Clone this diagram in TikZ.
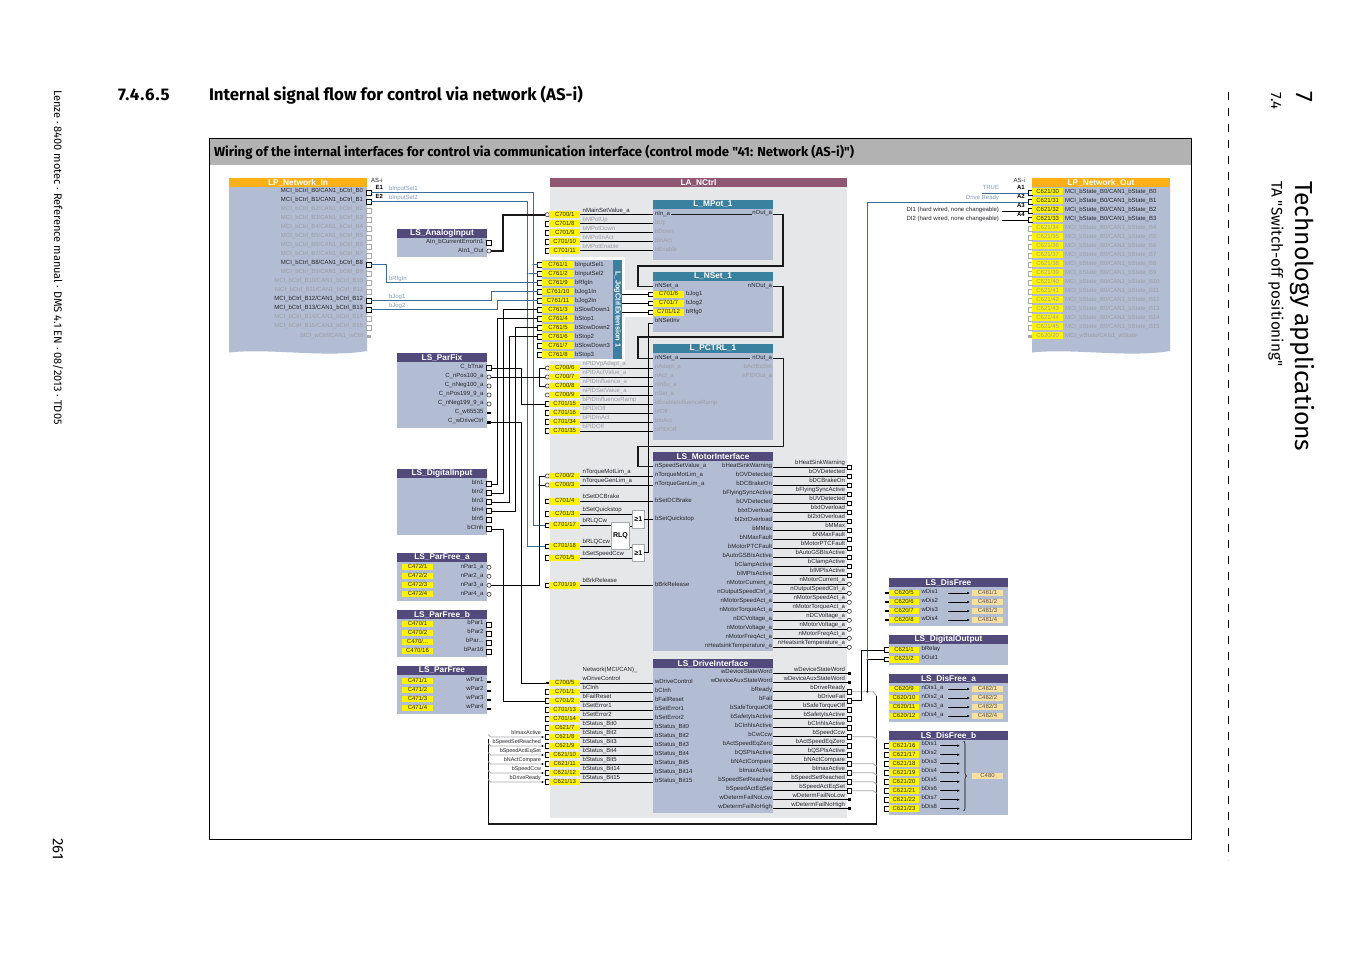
\documentclass[tikz,border=0pt]{standalone}
\usepackage{fontspec}
\setmainfont{Liberation Sans}
\newfontfamily\pagefont{Fira Sans}
\newfontfamily\pagefontsp[LetterSpace=5.5]{Fira Sans}
\usetikzlibrary{arrows.meta,decorations.pathreplacing,calc}
\catcode`\_=12
\definecolor{bodyc}{HTML}{B2BDD3}
\definecolor{purp}{HTML}{534A7C}
\definecolor{teal2}{HTML}{3A81A0}
\definecolor{yel}{HTML}{FFF200}
\definecolor{oran}{HTML}{FBB017}
\definecolor{wine}{HTML}{8F5772}
\definecolor{bgg}{HTML}{E6E7E9}
\definecolor{bluew}{HTML}{3A6C9A}
\definecolor{blut}{HTML}{7F9DBF}
\definecolor{grayt}{HTML}{9C9EA5}
\definecolor{dkt}{HTML}{26262B}
\definecolor{peach}{HTML}{F8DFA0}
\definecolor{stub}{HTML}{A9A9A9}
\tikzset{
 base/.style={inner sep=0pt,outer sep=0pt,font=\fontsize{6}{7}\selectfont,text height=4.3pt,text depth=1.2pt},
 dk/.style={base,text=dkt},
 dks/.style={dk,font=\fontsize{5.4}{6}\selectfont},
 gy/.style={base,text=grayt},
 blu/.style={base,text=blut},
 bld/.style={base,text=black,font=\fontsize{6}{7}\selectfont\bfseries},
 tag/.style={base,fill=yel,text=dkt,minimum width=30.7pt,minimum height=6.8pt},
 taggy/.style={tag,text=grayt},
 ptag/.style={base,fill=peach,text=dkt!80,minimum width=31pt,minimum height=6.8pt},
 psq/.style={draw=black,fill=white,line width=.8pt,inner sep=0pt,outer sep=0pt,minimum size=4.8pt},
 psqg/.style={psq,draw=stub},
 pc/.style={circle,draw=black!80,fill=white,line width=.6pt,inner sep=0pt,outer sep=0pt,minimum size=4.2pt},
 pf/.style={fill=black,inner sep=0pt,outer sep=0pt,minimum width=3.6pt,minimum height=2.6pt},
 pfg/.style={pf,fill=stub},
 jd/.style={circle,fill=black,inner sep=0pt,outer sep=0pt,minimum size=2pt},
 jb/.style={circle,fill=bluew,inner sep=0pt,outer sep=0pt,minimum size=2pt},
 wire/.style={line width=.8pt,black},
 bwire/.style={line width=.8pt,bluew},
 thk/.style={line width=1.4pt,black!90},
 gwire/.style={line width=.9pt,stub},
 bodyb/.style={fill=bodyc,draw=none},
 hdr/.style={inner sep=0pt,outer sep=0pt,text=white,font=\fontsize{8.3}{9}\selectfont\bfseries},
 gatebox/.style={draw=stub,fill=white,line width=.8pt,inner sep=0pt,outer sep=0pt,font=\fontsize{7}{8}\selectfont\bfseries},
 arr/.style={line width=.7pt,black,-{Latex[length=3pt,width=2.6pt]},shorten >=2pt},
 ptext/.style={inner sep=0pt,outer sep=0pt,font=\pagefont},
}
\newcount\txtn
\newcommand\txtL[4][dk]{\global\advance\txtn by 1\relax\node[#1,anchor=west] (x\the\txtn) at (#2,#3) {#4};}
\newcommand\txtR[4][dk]{\global\advance\txtn by 1\relax\node[#1,anchor=east] (x\the\txtn) at (#2,#3) {#4};}
\newcommand\blockb[8]{\fill[bodyb] (#2,#5) rectangle (#3,#6);
  \fill[#7] (#2,#4) rectangle (#3,#5);
  \node[hdr] (h#1) at ({(#2+#3)/2},{(#4+#5)/2}) {#8};}
\newcommand\HVH[4][wire]{\coordinate (tmpv) at (#3,0);\draw[#1] (#2) -- (#2 -| tmpv) -- (#4 -| tmpv) -- (#4);}
\newcommand\RowIn[7]{\node[#1] (p#2) at (547.3,#3) {};
  \node[tag] (t#2) at (564.7,#3) {#4};
  \txtL[#5]{582.7}{#3-4.2}{#6}
  \coordinate (i#2) at (#7,#3);
  \draw[wire] (t#2.east) -- (i#2);}
\begin{document}
\begin{tikzpicture}[x=1pt,y=-1pt]
\useasboundingbox (0,0) rectangle (1350,954);
\fill[white] (0,0) rectangle (1350,954);
% page furniture
\node[ptext,rotate=-90,anchor=west,font=\pagefont\fontsize{11}{13}\selectfont] (foot) at (58,90) {Lenze · 8400 motec · Reference manual · DMS 4.1 EN · 08/2013 · TD05};
\node[ptext,rotate=-90,font=\pagefont\fontsize{15}{17}\selectfont] (pageno) at (58,849) {261};
\node[ptext,anchor=west,font=\pagefontsp\fontsize{16.85}{18}\selectfont\bfseries] (secno) at (118,95) {7.4.6.5};
\node[ptext,anchor=west,font=\pagefont\fontsize{16.85}{18}\selectfont\bfseries] (sect) at (209,95) {Internal signal flow for control via network (AS-i)};
\coordinate (dashA) at (1228,92);
\coordinate (dashB) at (1228,860);
\draw[black,line width=.7pt,dash pattern=on 8pt off 8pt] (dashA) -- (dashB);
\node[ptext,rotate=-90,font=\pagefont\fontsize{24}{26}\selectfont] (ch) at (1304,97) {7};
\node[ptext,rotate=-90,font=\pagefont\fontsize{15}{17}\selectfont] (chs) at (1276,101) {7.4};
\node[ptext,rotate=-90,anchor=west,font=\pagefont\fontsize{24.6}{28}\selectfont] (cht) at (1302,181) {Technology applications};
\node[ptext,rotate=-90,anchor=west,font=\pagefont\fontsize{15.3}{17}\selectfont] (chu) at (1276,181) {TA "Switch-off positioning"};
% frame
\fill[black!30] (209,138) rectangle (1191,165);
\draw[black,line width=.7pt] (209,138) rectangle (1191,839);
\node[ptext,anchor=west,font=\pagefont\fontsize{13.1}{15}\selectfont\bfseries] (ftitle) at (214,152) {Wiring of the internal interfaces for control via communication interface (control mode "41: Network (AS-i)")};
% LA_NCtrl background
\fill[bgg] (550,187) rectangle (847,818);
\fill[wine] (550,178) rectangle (847,187);
\node[hdr] (hNC) at (698.5,182.6) {LA_NCtrl};
\fill[white] (541,257) rectangle (625,361);
\fill[white] (622,290) rectangle (653,317);
% LP_Network_In
\fill[bodyb] (229,187) -- (367,187) -- (367,351) .. controls (325,358) and (270,348) .. (229,352.5) -- cycle;
\fill[oran] (229,178) rectangle (367,187);
\node[hdr] (hIn) at (298,182.6) {LP_Network_In};
\foreach \s/\ps [count=\i from 0] in {dk/psq,dk/psq,gy/psqg,gy/psqg,gy/psqg,gy/psqg,gy/psqg,gy/psqg,dk/psq,gy/psqg,gy/psqg,gy/psqg,dk/psq,dk/psq,gy/psqg,gy/psqg}{
  \pgfmathsetmacro\yy{191.4+9*\i}
  \pgfmathsetmacro\pp{192.7+9*\i}
  \txtR[\s]{363}{\yy}{MCI_bCtrl_B\i/CAN1_bCtrl_B\i}
  \node[\ps] (pLI\i) at (369,\pp) {};
}
\txtR[gy]{363}{335.5}{MCI_wCtrl/CAN1_wCtrl}
\node[pfg] (pLIw) at (369,336.5) {};
\txtL[dk]{371}{181}{AS-i}
\txtL[bld]{375.5}{188.2}{E1}
\txtL[bld]{375.5}{197.2}{E2}
\txtL[blu]{389}{188.5}{bInputSel1}
\txtL[blu]{389}{197.5}{bInputSel2}
\txtL[blu]{389}{279}{bRfgIn}
\txtL[blu]{389}{296.5}{bJog1}
\txtL[blu]{389}{305.5}{bJog2}
% LS_AnalogInput
\blockb{AI}{397}{487}{229}{238}{257}{purp}{LS_AnalogInput}
\txtR{483.5}{242}{AIn_bCurrentErrorIn1}
\txtR{483.5}{251}{AIn1_Out}
\node[psq] (pAIa) at (489,242.5) {};
\node[pc] (pAIb) at (489,251) {};
% LS_ParFix
\blockb{PF}{397}{487}{353}{362}{427.7}{purp}{LS_ParFix}
\foreach \t/\ps/\pp [count=\i from 0] in {C_bTrue/psq/368,C_nPos100_a/pc/377,C_nNeg100_a/pc/386,C_nPos199_9_a/pc/395,C_nNeg199_9_a/pc/404,C_w65535/pf/413,C_wDriveCtrl/pf/422.3}{
  \pgfmathsetmacro\yy{366.7+9*\i}
  \txtR{483.5}{\yy}{\t}
  \node[\ps] (pPF\i) at (489,\pp) {};
}
% LS_DigitalInput
\blockb{DI}{397}{487}{469}{478}{535}{purp}{LS_DigitalInput}
\foreach \t [count=\i from 0] in {bIn1,bIn2,bIn3,bIn4,bIn5,bCInh}{
  \pgfmathsetmacro\yy{483+9*\i}
  \pgfmathsetmacro\pp{484+9*\i}
  \txtR{483.5}{\yy}{\t}
  \node[psq] (pDI\i) at (489,\pp) {};
}
% LS_ParFree_a
\blockb{PFa}{397}{487}{553}{562}{601}{purp}{LS_ParFree_a}
\foreach \i in {0,1,2,3}{
  \pgfmathsetmacro\yy{567+9*\i}
  \pgfmathsetmacro\pp{567.3+9*\i}
  \pgfmathtruncatemacro\n{\i+1}
  \node[tag] (tPFa\i) at (417.5,\yy) {C472/\n};
  \txtR{483.5}{\yy}{nPar\n_a}
  \node[pc] (pPFa\i) at (489,\pp) {};
}
% LS_ParFree_b
\blockb{PFb}{397}{487}{610}{619}{657}{purp}{LS_ParFree_b}
\node[tag] (tPFb0) at (417.5,624) {C470/1};
\node[tag] (tPFb1) at (417.5,633) {C470/2};
\node[tag] (tPFb2) at (417.5,642) {C470/...};
\node[tag] (tPFb3) at (417.5,651) {C470/16};
\txtR{483.5}{622.7}{bPar1}
\txtR{483.5}{631.7}{bPar2}
\txtR{483.5}{640.7}{bPar...}
\txtR{483.5}{649.7}{bPar16}
\node[psq] (pPFb0) at (489,625) {};
\node[psq] (pPFb1) at (489,634) {};
\node[psq] (pPFb2) at (489,643) {};
\node[psq] (pPFb3) at (489,652) {};
% LS_ParFree
\blockb{PFw}{397}{487}{666}{675}{714}{purp}{LS_ParFree}
\foreach \i in {0,1,2,3}{
  \pgfmathsetmacro\yy{681+9*\i}
  \pgfmathsetmacro\qq{680+9*\i}
  \pgfmathsetmacro\pp{682+9*\i}
  \pgfmathtruncatemacro\n{\i+1}
  \node[tag] (tPFw\i) at (417.5,\yy) {C471/\n};
  \txtR{483.5}{\qq}{wPar\n}
  \node[pf] (pPFw\i) at (489,\pp) {};
}
% L_MPot_1
\blockb{MP}{653}{773}{200}{209}{260}{teal2}{L_MPot_1}
\txtL{655}{214}{nIn_a}
\foreach \t/\yy in {bUp/222.5,bDown/231.5,bInAct/240.5,bEnable/249.5}{\txtL[gy]{655}{\yy}{\t}}
\txtR{772}{213}{nOut_a}
% L_NSet_1
\blockb{NS}{653}{773}{272}{281}{332}{teal2}{L_NSet_1}
\txtL{655}{285.5}{nNSet_a}
\txtR{772}{285.5}{nNOut_a}
\txtL{655}{321}{bNSetInv}
% L_PCTRL_1
\blockb{PC}{653}{773}{344}{353}{440}{teal2}{L_PCTRL_1}
\txtL{655}{358}{nNSet_a}
\foreach \t [count=\i from 1] in {nAdapt_a,nAct_a,nInflu_a,nSet_a,bEnableInfluenceRamp,bIOff,bInAct,bPIDOff}{
  \pgfmathsetmacro\yy{358+9*\i}
  \txtL[gy]{655}{\yy}{\t}
}
\txtR{772}{358}{nOut_a}
\txtR[gy]{772}{367}{bActEqSet}
\txtR[gy]{772}{376}{nPIDOut_a}
% L_JogCtrlExtension
\fill[bodyb] (542,260) rectangle (613,359);
\fill[teal2] (613,260) rectangle (622,359);
\node[hdr,rotate=-90,font=\fontsize{7.4}{8}\selectfont\bfseries] (hJog) at (617.5,309.5) {L_JogCtrlExtension 1};
\coordinate (barE) at (622,300);
\foreach \c/\t [count=\i from 0] in {1/bInputSel1,2/bInputSel2,9/bRfgIn,10/bJog1In,11/bJog2In,3/bSlowDown1,4/bStop1,5/bSlowDown2,6/bStop2,7/bSlowDown3,8/bStop3}{
  \pgfmathsetmacro\yy{264.5+9*\i}
  \node[psq] (pJ\c) at (540,\yy) {};
  \node[tag,minimum width=31.5pt] (tJ\c) at (558,\yy) {C761/\c};
  \txtL{575}{\yy}{\t}
}
% NSet tags
\foreach \c/\t/\yy in {6/bJog1/294.3,7/bJog2/303.3,12/bRfg0/312.3}{
  \node[psq] (pN\c) at (651,\yy) {};
  \node[tag] (tN\c) at (668.5,\yy) {C701/\c};
  \txtL{686}{\yy}{\t}
  \draw[wire] (barE |- pN\c.west) -- (pN\c.west);
}
% MPot rows
\RowIn{pc}{A1}{214.7}{C700/1}{dk}{nMainSetValue_a}{653}
\RowIn{psq}{A8}{223.7}{C701/8}{gy}{bMPotUp}{653}
\RowIn{psq}{A9}{232.7}{C701/9}{gy}{bMPotDown}{653}
\RowIn{psq}{A10}{241.7}{C701/10}{gy}{bMPotInAct}{653}
\RowIn{psq}{A11}{250.7}{C701/11}{gy}{bMPotEnable}{653}
% PCTRL rows
\RowIn{pc}{B6}{368}{C700/6}{gy}{nPIDVpAdapt_a}{653}
\RowIn{pc}{B7}{377}{C700/7}{gy}{nPIDActValue_a}{653}
\RowIn{pc}{B8}{386}{C700/8}{gy}{nPIDInfluence_a}{653}
\RowIn{pc}{B9}{395}{C700/9}{gy}{nPIDSetValue_a}{653}
\RowIn{psq}{B15}{404}{C701/15}{gy}{bPIDInfluenceRamp}{653}
\RowIn{psq}{B16}{413}{C701/16}{gy}{bPIDIOff}{653}
\RowIn{psq}{B34}{422}{C701/34}{gy}{bPIDInAct}{653}
\RowIn{psq}{B35}{431}{C701/35}{gy}{bPIDOff}{653}
% LS_MotorInterface
\blockb{MI}{653}{773}{452}{461}{650.7}{purp}{LS_MotorInterface}
\foreach \t/\yy in {nSpeedSetValue_a/466,nTorqueMotLim_a/475,nTorqueGenLim_a/484,bSetDCBrake/500.5,bSetQuickstop/518.5,bBrkRelease/584.5}{\txtL{655}{\yy}{\t}}
\foreach \k/\t [count=\i from 0] in {psq/bHeatSinkWarning,psq/bOVDetected,psq/bDCBrakeOn,psq/bFlyingSyncActive,psq/bUVDetected,psq/bIxtOverload,psq/bI2xtOverload,psq/bMMax,psq/bNMaxFault,psq/bMotorPTCFault,psq/bAutoGSBIsActive,psq/bClampActive,psq/bIMPIsActive,pc/nMotorCurrent_a,pc/nOutputSpeedCtrl_a,pc/nMotorSpeedAct_a,pc/nMotorTorqueAct_a,pc/nDCVoltage_a,pc/nMotorVoltage_a,pc/nMotorFreqAct_a,pc/nHeatsinkTemperature_a}{
  \pgfmathsetmacro\yy{465.7+9*\i}
  \pgfmathsetmacro\ll{467.3+9*\i}
  \pgfmathsetmacro\oo{463+9*\i}
  \txtR{772}{\yy}{\t}
  \txtR{845}{\oo}{\t}
  \node[\k] (pM\i) at (849.3,\ll) {};
  \coordinate (oM\i) at (773,\ll);
  \draw[wire] (oM\i) -- (pM\i.west);
}
% Motor input rows
\RowIn{pc}{C2}{476}{C700/2}{dk}{nTorqueMotLim_a}{653}
\RowIn{pc}{C3}{485}{C700/3}{dk}{nTorqueGenLim_a}{653}
\RowIn{psq}{D4}{501.3}{C701/4}{dk}{bSetDCBrake}{653}
\RowIn{psq}{D3}{514}{C701/3}{dk}{bSetQuickstop}{632.3}
\RowIn{psq}{D17}{525.3}{C701/17}{dk}{bRLQCw}{611.3}
\RowIn{psq}{D18}{546.3}{C701/18}{dk}{bRLQCcw}{611.3}
\RowIn{psq}{D5}{558}{C701/5}{dk}{bSetSpeedCcw}{632.3}
\RowIn{psq}{D19}{585.3}{C701/19}{dk}{bBrkRelease}{653}
% gates
\node[gatebox,minimum width=18.5pt,minimum height=27.5pt] (rlq) at (620.5,536) {RLQ};
\node[gatebox,minimum width=12pt,minimum height=17.6pt] (orA) at (638.3,519.5) {≥1};
\node[gatebox,minimum width=12pt,minimum height=17.3pt] (orB) at (638.3,552.7) {≥1};
\draw[wire] (rlq.east |- orA.south) ++(0,-2) -- ++(2.6,0);
\draw[wire] (rlq.east |- orB.north) ++(0,3) -- ++(2.6,0);
\coordinate (iQS) at (653,519);
\draw[wire] (orA.east |- iQS) -- (iQS);
\coordinate (iInv) at (653,323);
\HVH{orB.east}{648.3}{iInv}
% LS_DriveInterface
\blockb{DrI}{653}{773}{659}{668}{813}{purp}{LS_DriveInterface}
\foreach \t [count=\i from 0] in {wDriveControl,bCInh,bFailReset,bSetError1,bSetError2,bStatus_Bit0,bStatus_Bit2,bStatus_Bit3,bStatus_Bit4,bStatus_Bit5,bStatus_Bit14,bStatus_Bit15}{
  \pgfmathsetmacro\yy{681.7+9*\i}
  \txtL{655}{\yy}{\t}
}
\foreach \k/\t/\o [count=\i from 0] in {pf/wDeviceStateWord/wDeviceStateWord,pf/wDeviceAuxStateWord/wDeviceAuxStateWord,psq/bReady/bDriveReady,psq/bFail/bDriveFail,psq/bSafeTorqueOff/bSafeTorqueOff,psq/bSafetyIsActive/bSafetyIsActive,psq/bCInhIsActive/bCInhIsActive,psq/bCwCcw/bSpeedCcw,psq/bActSpeedEqZero/bActSpeedEqZero,psq/bQSPIsActive/bQSPIsActive,psq/bNActCompare/bNActCompare,psq/bImaxActive/bImaxActive,psq/bSpeedSetReached/bSpeedSetReached,psq/bSpeedActEqSet/bSpeedActEqSet,pf/wDetermFailNoLow/wDetermFailNoLow,pf/wDetermFailNoHigh/wDetermFailNoHigh}{
  \pgfmathsetmacro\yy{672+9*\i}
  \pgfmathsetmacro\ll{673.7+9*\i}
  \pgfmathsetmacro\oo{669.7+9*\i}
  \txtR{772}{\yy}{\t}
  \txtR{845}{\oo}{\o}
  \node[\k] (pW\i) at (849.3,\ll) {};
  \coordinate (oW\i) at (773,\ll);
  \draw[wire] (oW\i) -- (pW\i.west);
}
\RowIn{pf}{E5}{683}{C700/5}{dk}{wDriveControl}{653}
\txtL{582.7}{669.5}{Network(MCI/CAN)_}
\RowIn{psq}{E1}{692}{C701/1}{dk}{bCInh}{653}
\RowIn{psq}{E2}{701}{C701/2}{dk}{bFailReset}{653}
\RowIn{psq}{E13}{710}{C701/13}{dk}{bSetError1}{653}
\RowIn{psq}{E14}{719}{C701/14}{dk}{bSetError2}{653}
\RowIn{psq}{F7}{728}{C621/7}{dk}{bStatus_Bit0}{653}
\RowIn{psq}{F8}{737}{C621/8}{dk}{bStatus_Bit2}{653}
\RowIn{psq}{F9}{746}{C621/9}{dk}{bStatus_Bit3}{653}
\RowIn{psq}{F10}{755}{C621/10}{dk}{bStatus_Bit4}{653}
\RowIn{psq}{F11}{764}{C621/11}{dk}{bStatus_Bit5}{653}
\RowIn{psq}{F12}{773}{C621/12}{dk}{bStatus_Bit14}{653}
\RowIn{psq}{F13}{782}{C621/13}{dk}{bStatus_Bit15}{653}
% return bus
\coordinate (busR) at (876.7,696);
\coordinate (busRB) at (876.7,823.5);
\coordinate (busLB) at (488.3,823.5);
\coordinate (busL) at (488.3,739);
\draw[line width=2pt,black!90] (busRB) -- (busLB);
\draw[line width=.9pt,black] (busR) -- (busRB);
\draw[line width=.9pt,black] (busLB) -- (busL);
\foreach \n/\t in {F8/bImaxActive,F9/bSpeedSetReached,F10/bSpeedActEqSet,F11/bNActCompare,F12/bSpeedCcw,F13/bDriveReady}{
  \draw[gwire] (p\n.west) -- ([xshift=2.5pt]busL |- p\n.west) -- ([yshift=2.5pt]busL |- p\n.west);
  \node[jd] (d\n) at ([xshift=-2.6pt]p\n.west) {};
  \global\advance\txtn by 1\relax
  \node[dks,anchor=east] (x\the\txtn) at ([xshift=-4pt,yshift=4.2pt]p\n.west) {\t};
}
\foreach \n in {7,10,11,12,13}{
  \draw[gwire] (pW\n.east) -- ([xshift=-3.5pt]busR |- pW\n.east) -- ([yshift=-2.5pt]busR |- pW\n.east);
}
\draw[gwire] (pW2.east) -- ([xshift=-3.5pt]busR |- pW2.east) -- (busR);
% LP_Network_Out
\fill[bodyb] (1032,187) -- (1170,187) -- (1170,351) .. controls (1128,358) and (1073,348) .. (1032,352.5) -- cycle;
\fill[oran] (1032,178) rectangle (1170,187);
\node[hdr] (hOut) at (1101,182.6) {LP_Network_Out};
\foreach \s/\ps/\tg [count=\i from 0] in {dk/psq/tag,dk/psq/tag,dk/psq/tag,dk/psq/tag,gy/psqg/taggy,gy/psqg/taggy,gy/psqg/taggy,gy/psqg/taggy,gy/psqg/taggy,gy/psqg/taggy,gy/psqg/taggy,gy/psqg/taggy,gy/psqg/taggy,gy/psqg/taggy,gy/psqg/taggy,gy/psqg/taggy}{
  \pgfmathsetmacro\yy{191.7+9*\i}
  \pgfmathsetmacro\pp{193+9*\i}
  \pgfmathtruncatemacro\n{30+\i}
  \node[\ps] (pO\i) at (1030.3,\pp) {};
  \node[\tg] (tO\i) at (1047.7,\yy) {C621/\n};
  \txtL[\s]{1065}{\yy}{MCI_bState_B0/CAN1_bState_B\i}
}
\node[pfg] (pOw) at (1030,336.7) {};
\node[taggy] (tOw) at (1047.7,335.7) {C620/20};
\txtL[gy]{1065}{335.7}{MCI_wState/CAN1_wState}
\txtR{1025}{181}{AS-i}
\txtL[bld]{1017}{188.2}{A1}
\txtL[bld]{1017}{197.2}{A2}
\txtL[bld]{1017}{206.2}{A3}
\txtL[bld]{1017}{215.2}{A4}
\txtR[blu]{999}{188}{TRUE}
\txtR[blu]{999}{197.5}{Drive Ready}
\txtR{999}{209.5}{DI1 (hard wired, none changeable)}
\txtR{999}{218.5}{DI2 (hard wired, none changeable)}
\coordinate (sTrue) at (982.3,193);
\draw[bwire] (sTrue) -- (pO0.west);
\coordinate (sD1) at (1001.7,211);
\coordinate (sD2) at (1001.7,220);
\draw[wire] (sD1) -- (pO2.west);
\draw[wire] (sD2) -- (pO3.west);
% LS_DisFree
\blockb{DF}{889}{1008}{578}{587}{625.7}{purp}{LS_DisFree}
\foreach \c [count=\i from 1] in {5,6,7,8}{
  \pgfmathsetmacro\yy{593+9*(\i-1)}
  \pgfmathsetmacro\qq{\yy-1.5}
  \node[pf,minimum width=4pt] (pDF\i) at (886.7,\yy) {};
  \node[tag] (tDF\i) at (904,\yy) {C620/\c};
  \txtL{921.5}{\qq}{wDis\i}
  \node[ptag] (oDF\i) at (987.5,\yy) {C481/\i};
  \coordinate (aDF\i) at (948,\yy);
  \draw[arr] (aDF\i) -- (oDF\i.west);
}
% LS_DigitalOutput
\blockb{DO}{889}{1008}{635}{644}{665}{purp}{LS_DigitalOutput}
\node[psq] (pDO1) at (886.5,650) {};
\node[tag] (tDO1) at (904,650) {C621/1};
\txtL{921.5}{648.5}{bRelay}
\node[psq] (pDO2) at (886.5,659.3) {};
\node[tag] (tDO2) at (904,659.3) {C621/2};
\txtL{921.5}{657.5}{bOut1}
% LS_DisFree_a
\blockb{DFa}{889}{1008}{674}{683}{722}{purp}{LS_DisFree_a}
\foreach \c [count=\i from 1] in {9,10,11,12}{
  \pgfmathsetmacro\yy{689+9*(\i-1)}
  \pgfmathsetmacro\qq{\yy-1.5}
  \node[tag] (tDFa\i) at (904,\yy) {C620/\c};
  \txtL{921.5}{\qq}{nDis\i_a}
  \node[ptag] (oDFa\i) at (987.5,\yy) {C482/\i};
  \coordinate (aDFa\i) at (948,\yy);
  \draw[arr] (aDFa\i) -- (oDFa\i.west);
}
% LS_DisFree_b
\blockb{DFb}{889}{1008}{731}{740}{815}{purp}{LS_DisFree_b}
\foreach \c [count=\i from 1] in {16,17,18,19,20,21,22,23}{
  \pgfmathsetmacro\yy{745.7+9*(\i-1)}
  \pgfmathsetmacro\qq{\yy-1.5}
  \node[psq] (pDFb\i) at (886.5,\yy) {};
  \node[tag] (tDFb\i) at (904,\yy) {C621/\c};
  \txtL{921.5}{\qq}{bDis\i}
  \coordinate (aDFb\i) at (940,\yy);
  \coordinate (eDFb\i) at (962,\yy);
  \draw[arr] (aDFb\i) -- (eDFb\i);
}
\node[ptag] (oDFb) at (987.5,776) {C480};
\coordinate (brT) at (963.5,741);
\coordinate (brB) at (963.5,811);
\draw[line width=.6pt,black,decorate,decoration={brace,amplitude=3pt}] (brT) -- (brB);
% ---- wires
\HVH[bwire]{pLI0.east}{533.3}{pD17.west}
\HVH[bwire]{pLI1.east}{527.7}{pD18.west}
\node[jb] (jE1) at (533.3,264.5) {};
\node[jb] (jE2) at (527.7,273.5) {};
\draw[bwire] (jE1) -- (pJ1.west);
\draw[bwire] (jE2) -- (pJ2.west);
\HVH[bwire]{pLI8.east}{386.7}{pJ9.west}
\HVH[bwire]{pLI12.east}{491}{pJ10.west}
\HVH[bwire]{pLI13.east}{497}{pJ11.west}
\HVH{pDI0.east}{497.5}{pJ4.west}
\HVH{pDI1.east}{503.5}{pJ3.west}
\HVH{pDI2.east}{509.5}{pJ6.west}
\HVH{pDI3.east}{515.5}{pJ5.west}
\HVH{pDI5.east}{503.5}{pE2.west}
\HVH[line width=1.9pt,black!90]{pAIb.east}{503}{pA1.west}
\HVH{pPF0.east}{521.7}{pB15.west}
\HVH{pPF6.east}{521.7}{pE5.west}
\draw[wire] (pPF1.east) -- (pB7.west);
\node[jd] (jPID) at (539.3,377) {};
\draw[wire] (pB6.west) -- (pB6.west -| jPID) -- (pB8.west -| jPID) -- (pB8.west);
\HVH{pPFa2.east}{539.3}{pC2.west}
\node[jd] (jTq) at (539.3,485) {};
\draw[wire] (jTq) -- (pC3.west);
% thick chain
\coordinate (oMP) at (773,214.7);
\coordinate (iNS) at (653,286.5);
\coordinate (oNS) at (773,286.5);
\coordinate (iPC) at (653,358.7);
\coordinate (oPC) at (773,358.7);
\coordinate (iMI) at (653,466.7);
\draw[thk] (oMP) -| (783,266) -| (638,286.5) -- (iNS);
\draw[thk] (oNS) -| (783,337) -| (638,358.7) -- (iPC);
\draw[thk] (oPC) -| (783.5,446.5) -| (638,466.7) -- (iMI);
\coordinate (mpA) at (671,214.7);
\coordinate (mpB) at (752,214.7);
\draw[thk] (mpA) -- (mpB);
\coordinate (pcA) at (680,358.7);
\coordinate (pcB) at (750,358.7);
\draw[thk] (pcA) -- (pcB);
% right side feedback
\node[jb] (jDR) at (867.3,659.3) {};
\node[jd] (jDR2) at (867.3,691.7) {};
\coordinate (topA2) at (867.3,202);
\draw[bwire] (topA2) -- (jDR);
\draw[bwire] (topA2) -- (pO1.west);
\draw[wire] (jDR) -- (jDR2);
\draw[wire] (jDR) -- (pDO2.west);
\HVH{pW3.east}{861.7}{pDO1.west}
\end{tikzpicture}
\end{document}
